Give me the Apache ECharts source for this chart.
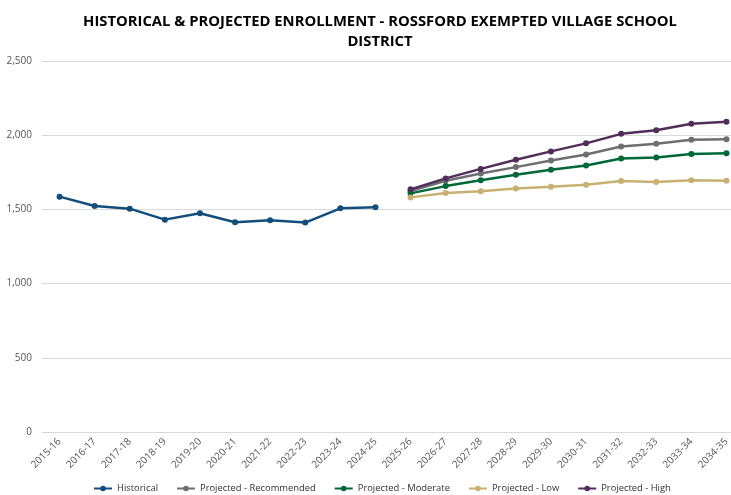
<!DOCTYPE html>
<html>
<head>
<meta charset="utf-8">
<script src="https://cdn.jsdelivr.net/npm/echarts@6/dist/echarts.min.js"></script>
<style>
  html, body { margin: 0; padding: 0; background: #fff; overflow: hidden; }
  /* canvas a bit wider than the window so the last category band runs past the right edge */
  #main { width: 744px; height: 495px; }
</style>
</head>
<body>
<div id="main"></div>
<script>
// school years on the x axis
const years = ['2015-16', '2016-17', '2017-18', '2018-19', '2019-20', '2020-21', '2021-22', '2022-23', '2023-24', '2024-25',
  '2025-26', '2026-27', '2027-28', '2028-29', '2029-30', '2030-31', '2031-32', '2032-33', '2033-34', '2034-35'];

const historical = [1586, 1523, 1505, 1431, 1474, 1413, 1427, 1411, 1507, 1514];
const recommended = [1623, 1693, 1742, 1785, 1830, 1870, 1924, 1942, 1969, 1973];
const moderate = [1608, 1657, 1697, 1733, 1767, 1796, 1843, 1850, 1874, 1879];
const low = [1581, 1610, 1623, 1641, 1652, 1666, 1691, 1684, 1697, 1693];
const high = [1635, 1709, 1773, 1834, 1891, 1945, 2009, 2034, 2077, 2090];

const gap = new Array(10).fill(null);

function lineSeries(name, color, data) {
  return {
    name: name,
    type: 'line',
    data: data,
    symbol: 'circle',
    symbolSize: 6,
    lineStyle: {width: 2.5, color: color},
    itemStyle: {color: color},
    connectNulls: false
  };
}

echarts.init(document.getElementById('main')).setOption({
  animation: false,
  textStyle: {fontFamily: 'Open Sans'},
  title: {
    text: 'HISTORICAL & PROJECTED ENROLLMENT - ROSSFORD EXEMPTED VILLAGE SCHOOL\nDISTRICT',
    left: 375,
    top: 7,
    textAlign: 'center',
    textStyle: {fontSize: 14.8, fontWeight: 'bold', color: '#000', lineHeight: 20, fontFamily: 'Open Sans'}
  },
  legend: {
    top: 484,
    left: 93,
    itemWidth: 18,
    itemHeight: 7,
    itemGap: 18,
    padding: 0,
    textStyle: {fontSize: 9.4, color: '#333'},
    data: ['Historical', 'Projected - Recommended', 'Projected - Moderate', 'Projected - Low', 'Projected - High']
  },
  grid: {left: 42, right: 0, top: 61, bottom: 63, containLabel: false},
  xAxis: {
    type: 'category',
    data: years,
    boundaryGap: true,
    axisLine: {show: false},
    axisTick: {show: false},
    axisLabel: {rotate: 45, fontSize: 10, color: '#555', interval: 0, margin: 8}
  },
  yAxis: {
    type: 'value',
    min: 0,
    max: 2500,
    interval: 500,
    axisLabel: {
      fontSize: 10, color: '#555', margin: 10,
      formatter: v => v.toLocaleString('en-US')
    },
    splitLine: {lineStyle: {color: '#d9d9d9'}}
  },
  series: [
    lineSeries('Historical', '#124d7c', historical),
    lineSeries('Projected - Recommended', '#6d6e71', gap.concat(recommended)),
    lineSeries('Projected - Moderate', '#006838', gap.concat(moderate)),
    lineSeries('Projected - Low', '#c8b073', gap.concat(low)),
    lineSeries('Projected - High', '#522d5b', gap.concat(high))
  ]
});
</script>
</body>
</html>
